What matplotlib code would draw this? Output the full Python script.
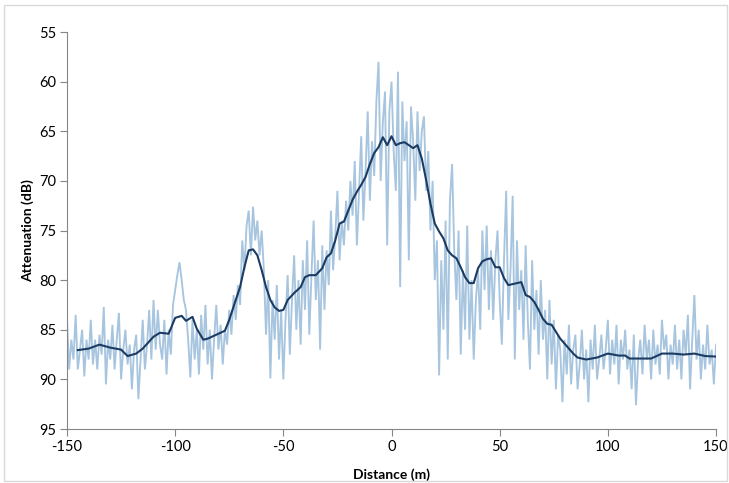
import numpy as np
import matplotlib
matplotlib.use("Agg")
import matplotlib.pyplot as plt
from matplotlib.patches import Rectangle

# Raw attenuation samples, one per metre from -150 m to 150 m
distance_raw = np.arange(-150, 151, 1)
attenuation_raw = [
    84, 89, 86, 88, 83.5, 89, 87, 85, 89.7, 86,
    88, 84, 88.5, 86, 89, 85.5, 87.5, 82.7, 90.5, 86,
    88, 84.5, 89, 86, 83.3, 90, 87, 85, 88.5, 86.5,
    91, 87, 85.5, 92, 88, 84, 89, 86.5, 83, 88,
    82, 87, 83, 86.5, 88, 84, 89.5, 85, 87.5, 82.5,
    81, 79.5, 78.2, 80, 82, 83, 86, 89.8, 84, 88,
    85, 89.5, 83.5, 87, 82.5, 88.5, 85, 90, 86, 82.5,
    87, 84.5, 88.5, 85, 86.5, 83, 85.5, 81.5, 84, 80.5,
    82.5, 76, 79, 74.5, 73, 77.5, 72.6, 76, 74, 77.5,
    75, 79, 85.5, 80, 89.9, 82, 86, 80.5, 88, 83,
    90, 84, 79.5, 87.5, 82, 77.5, 85, 80, 86.5, 78,
    83, 76, 85.5, 79.5, 74, 82, 78, 87, 76.5, 83,
    77, 80.5, 73, 79, 75.5, 71, 78, 74, 76.5, 72,
    75, 70, 73.5, 68, 76.5, 71, 65.5, 74, 69, 63,
    72, 66, 69.5, 62, 58, 70, 64, 61, 76.5, 63,
    60, 67, 71, 59, 80.7, 62, 68, 64, 78, 62.5,
    66, 72, 63, 69, 65, 63.5, 71, 67, 75, 70,
    80, 76, 89.6, 78, 85, 74, 88, 72, 68.3, 77,
    82, 75, 87.5, 79, 85, 74.5, 86, 80, 88, 82,
    79, 85, 75, 81, 74.5, 83, 77, 84, 78, 75,
    82, 86.5, 78, 71, 84, 79, 71.5, 88, 76, 83,
    79, 86, 76.5, 84, 89, 78, 85, 81, 87.5, 80,
    86, 83, 90, 82, 88.5, 84, 91, 85.5, 87, 92.3,
    86, 89.5, 84.5, 90.5, 87, 85.5, 91, 88.5, 85, 90,
    87, 92.3, 86, 89, 84.5, 90, 88, 85.5, 89, 87,
    84, 89.5, 86, 88.5, 84.5, 90.5, 86, 88, 85, 89,
    87, 91, 85.5, 92.6, 88, 86, 89.5, 84.5, 88, 86,
    90, 85, 88.5, 86.5, 89.5, 84, 87, 85.5, 90, 86.5,
    88.5, 84.5, 89, 86, 90, 85, 87.5, 83.5, 91, 86,
    81.5, 88, 85, 90, 86.5, 89, 84.5, 88.5, 87, 90.5,
    86.5,
]

# Smoothed attenuation trend
distance_smooth = [
    -145, -140, -135, -130, -125, -122, -118, -115, -110, -107, -103, -100,
    -97, -95, -92, -90, -87, -85, -80, -77, -75, -72, -70, -68, -66, -64,
    -62, -60, -58, -56, -54, -52, -50, -48, -45, -42, -40, -38, -35, -32,
    -30, -28, -26, -24, -22, -20, -18, -16, -14, -12, -10, -8, -6, -4, -2,
    0, 2, 4, 6, 8, 10, 12, 14, 16, 18, 20, 22, 24, 26, 28, 30, 32, 34, 36,
    38, 40, 42, 44, 46, 48, 50, 52, 54, 56, 58, 60, 62, 64, 66, 68, 70, 72,
    74, 76, 78, 80, 82, 84, 86, 90, 95, 100, 105, 108, 110, 115, 120, 125,
    130, 135, 140, 145, 150,
]
attenuation_smooth = [
    87.05, 86.9, 86.5, 86.8, 87.0, 87.65, 87.4, 86.9, 85.7, 85.3, 85.4, 83.8,
    83.6, 84.1, 83.7, 84.9, 86.0, 85.9, 85.4, 85.1, 84.0, 82.0, 80.7, 78.7,
    77.0, 76.9, 77.5, 79.0, 80.7, 82.0, 82.75, 83.1, 83.0, 82.0, 81.3, 80.7,
    79.7, 79.5, 79.5, 78.8, 77.7, 77.3, 76.0, 74.3, 74.1, 73.0, 71.9, 71.1,
    70.4, 69.6, 68.3, 67.2, 66.6, 65.6, 66.4, 65.5, 66.4, 66.2, 66.1, 66.4,
    66.7, 66.4, 67.75, 69.9, 72.3, 74.3, 75.1, 75.8, 77.0, 77.5, 77.8, 78.7,
    79.7, 80.3, 80.3, 78.8, 78.1, 77.9, 77.8, 78.7, 78.7, 79.8, 80.5, 80.4,
    80.3, 80.2, 81.5, 81.7, 82.2, 83.0, 83.9, 84.4, 84.5, 85.2, 85.9, 86.4,
    86.9, 87.4, 87.8, 88.0, 87.8, 87.4, 87.6, 87.6, 87.9, 87.9, 87.9, 87.4,
    87.4, 87.5, 87.4, 87.65, 87.7,
]

x_ticks = [-150, -100, -50, 0, 50, 100, 150]
y_ticks = [55, 60, 65, 70, 75, 80, 85, 90, 95]

plt.rcParams["font.family"] = ["Lato", "DejaVu Sans"]
plt.rcParams["axes.unicode_minus"] = False

fig = plt.figure(figsize=(7.29, 4.83), dpi=100)
ax = fig.add_axes([0.0919, 0.1118, 0.8903, 0.8219])

ax.plot(distance_raw, attenuation_raw, color="#a7c5df", linewidth=1.35,
        solid_joinstyle="miter")
ax.plot(distance_smooth, attenuation_smooth, color="#1c3b63", linewidth=1.5)

ax.set_xlim(-150, 150)
ax.set_ylim(95, 55)
ax.set_xticks(x_ticks)
ax.set_yticks(y_ticks)
ax.tick_params(axis="both", direction="out", length=5, width=0.8,
               color="#868686", labelsize=10.5, labelcolor="#000000", pad=3)

for side in ("top", "right"):
    ax.spines[side].set_visible(False)
for side in ("left", "bottom"):
    ax.spines[side].set_color("#868686")
    ax.spines[side].set_linewidth(0.8)

ax.set_xlabel("Distance (m)", fontsize=10, fontweight="bold", labelpad=10)
ax.set_ylabel("Attenuation (dB)", fontsize=10, fontweight="bold", labelpad=3)

# Light outer chart frame
fig.patches.append(Rectangle((0.006, 0.004), 0.991, 0.985,
                             transform=fig.transFigure, fill=False,
                             edgecolor="#d9d9d9", linewidth=1.0))

fig.savefig("out.png", dpi=100)
